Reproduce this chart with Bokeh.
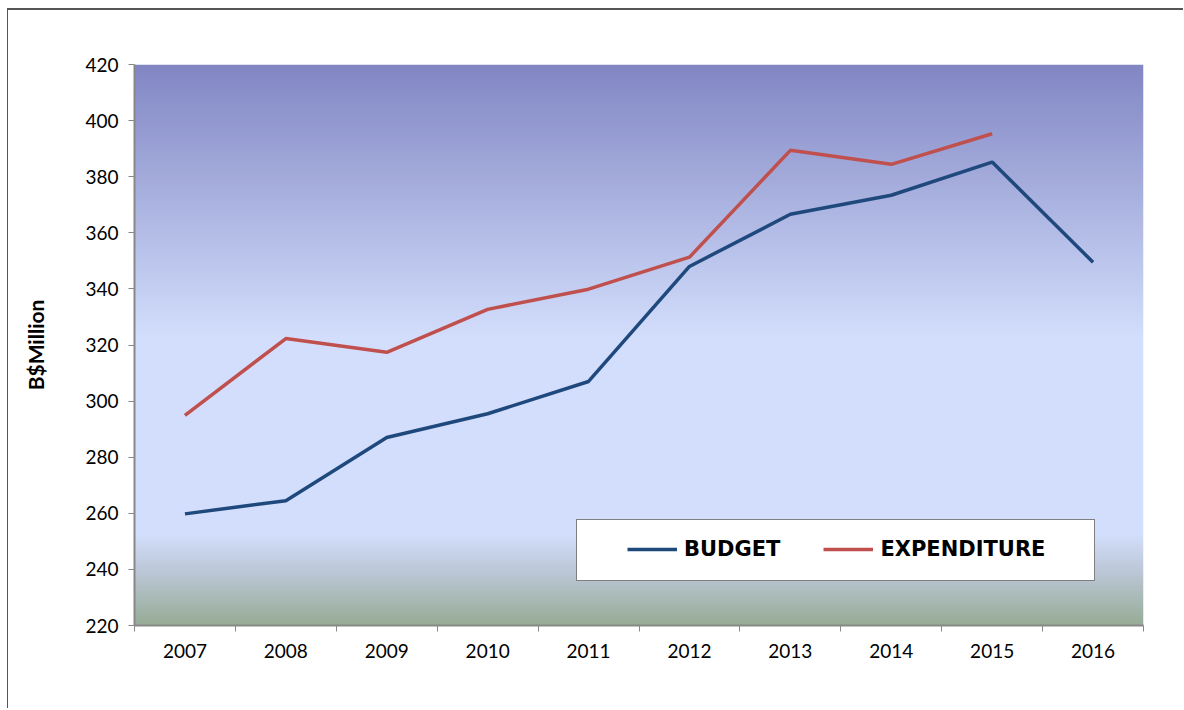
import numpy as np
from bokeh.plotting import figure
from bokeh.models import FixedTicker, Legend, LegendItem
from bokeh.embed import file_html
from bokeh.resources import INLINE

years = [2007, 2008, 2009, 2010, 2011, 2012, 2013, 2014, 2015, 2016]
budget = [259.8, 264.5, 287.0, 295.5, 307.0, 348.0, 366.6, 373.4, 385.2, 349.5]
exp_years = [2007, 2008, 2009, 2010, 2011, 2012, 2013, 2014, 2015]
expenditure = [294.9, 322.3, 317.4, 332.7, 339.9, 351.3, 389.4, 384.4, 395.3]
y_ticks = [220, 240, 260, 280, 300, 320, 340, 360, 380, 400, 420]

FONT = "Lato"
LEG_FONT = "DejaVu Sans"
y0, y1 = 220, 420
x0, x1 = years[0] - 0.5, years[-1] + 0.5

p = figure(width=1176, height=700, output_backend="svg", toolbar_location=None,
           x_range=(x0, x1), y_range=(y0, y1),
           min_border_left=126, min_border_right=41, min_border_top=54, min_border_bottom=85)
p.styles = {"border-left": "1px solid #555555", "border-top": "2px solid #555555",
            "margin-left": "7px", "margin-top": "8px"}
p.outline_line_color = None
p.background_fill_color = None
p.border_fill_color = "white"
p.grid.visible = False

# vertical gradient background (style only)
stops = [(220, (152, 172, 150)), (238, (186, 198, 212)), (252, (211, 222, 252)),
         (323, (211, 222, 252)), (420, (130, 135, 196))]
n = 400
vals = np.linspace(y0, y1, n)
sv = [s[0] for s in stops]
rgb = np.stack([np.interp(vals, sv, [s[1][k] for s in stops]) for k in range(3)], axis=1).astype(np.uint32)
img = np.zeros((n, 1), dtype=np.uint32)
view = img.view(dtype=np.uint8).reshape((n, 1, 4))
view[:, 0, 0] = rgb[:, 0]
view[:, 0, 1] = rgb[:, 1]
view[:, 0, 2] = rgb[:, 2]
view[:, 0, 3] = 255
p.image_rgba(image=[img], x=x0, y=y0, dw=x1 - x0, dh=y1 - y0, level="image")

r1 = p.line(years, budget, line_color="#1f497d", line_width=3.5)
r2 = p.line(exp_years, expenditure, line_color="#c0504d", line_width=3.5)
r_blank = p.line(x=[], y=[], line_alpha=0)

# axes
p.yaxis.ticker = FixedTicker(ticks=y_ticks)
p.yaxis.axis_line_color = "#888888"
p.yaxis.axis_line_width = 2
p.yaxis.major_tick_in = 0
p.yaxis.major_tick_out = 6
p.yaxis.major_tick_line_color = "#888888"
p.yaxis.minor_tick_line_color = None
p.yaxis.major_label_text_font = FONT
p.yaxis.major_label_text_font_size = "19px"
p.yaxis.major_label_text_color = "black"
p.yaxis.major_label_standoff = 10
p.yaxis.axis_label = "B$Million"
p.yaxis.axis_label_text_font = FONT
p.yaxis.axis_label_text_font_style = "bold"
p.yaxis.axis_label_text_font_size = "21px"
p.yaxis.axis_label_text_color = "black"
p.yaxis.axis_label_standoff = 34

p.xaxis.ticker = FixedTicker(ticks=years, minor_ticks=[y - 0.5 for y in years] + [years[-1] + 0.5])
p.xaxis.major_label_overrides = {y: str(y) for y in years}
p.xaxis.axis_line_color = "#888888"
p.xaxis.axis_line_width = 2
p.xaxis.major_tick_line_color = None
p.xaxis.major_tick_in = 0
p.xaxis.major_tick_out = 0
p.xaxis.minor_tick_line_color = "#888888"
p.xaxis.minor_tick_in = 0
p.xaxis.minor_tick_out = 6
p.xaxis.major_label_text_font = FONT
p.xaxis.major_label_text_font_size = "19px"
p.xaxis.major_label_text_color = "black"
p.xaxis.major_label_standoff = 12

# legend box (white frame)
box = Legend(items=[LegendItem(label="", renderers=[r_blank])],
             location=(442, 44), padding=0, margin=0, spacing=0,
             glyph_width=517, glyph_height=60, label_standoff=0,
             label_width=0, label_height=60, label_text_font_size="1px",
             border_line_color="black", border_line_width=1.5,
             background_fill_color="white", background_fill_alpha=1)
p.add_layout(box)

legend = Legend(items=[LegendItem(label="BUDGET", renderers=[r1]),
                       LegendItem(label="EXPENDITURE", renderers=[r2])],
                orientation="horizontal", location=(493, 64),
                label_text_font=LEG_FONT, label_text_font_style="bold",
                label_text_font_size="21px", label_text_color="black",
                border_line_color=None, background_fill_alpha=0,
                glyph_width=50, glyph_height=20, label_height=20, label_width=96,
                label_standoff=7, spacing=43, padding=0, margin=0)
p.add_layout(legend)

open("out.html", "w").write(file_html(p, INLINE))
